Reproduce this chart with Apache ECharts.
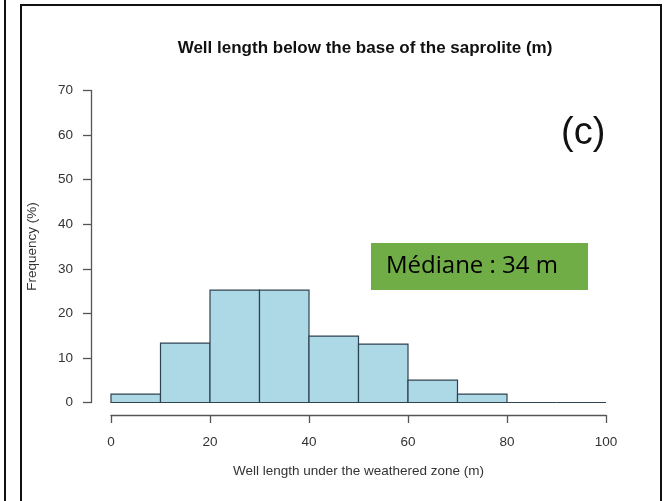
<!DOCTYPE html>
<html>
<head>
<meta charset="utf-8">
<script src="https://cdn.jsdelivr.net/npm/echarts@6/dist/echarts.min.js"></script>
<style>html,body{margin:0;padding:0;background:#fff;}#c{width:666px;height:501px;}</style>
</head>
<body>
<div id="c"></div>
<script>
var binStarts = [0, 10, 20, 30, 40, 50, 60, 70, 80, 90];
var binEnds   = [10, 20, 30, 40, 50, 60, 70, 80, 90, 100];
var frequencies = [1.9, 13.3, 25.2, 25.2, 14.9, 13.1, 5.0, 1.9, 0, 0];
var xTicks = [0, 20, 40, 60, 80, 100];
var yTicks = [0, 10, 20, 30, 40, 50, 60, 70];

var data = binStarts.map(function (s, i) { return [s, binEnds[i], frequencies[i]]; });

var chart = echarts.init(document.getElementById('c'), null, {renderer: 'canvas'});
var font = '"Liberation Sans", Arial, sans-serif';
var axisFont = {fontFamily: font, fontSize: 13.5, color: '#333'};
var xMin = xTicks[0], xMax = xTicks[xTicks.length - 1];
var yMin = yTicks[0], yMax = yTicks[yTicks.length - 1];
function hiddenAxis(type, gi, min, max) {
  return {type: 'value', gridIndex: gi, min: min, max: max, show: false,
          axisLine: {show: false}, axisTick: {show: false}, axisLabel: {show: false}, splitLine: {show: false}};
}
chart.setOption({
  animation: false,
  backgroundColor: '#fff',
  title: {
    text: 'Well length below the base of the saprolite (m)',
    left: 360, top: 35, textAlign: 'center',
    textStyle: {fontFamily: font, fontWeight: 'bold', fontSize: 17, color: '#111'}
  },
  grid: [
    {left: 111, right: 60, top: 90.5, bottom: 98.5},
    {left: 111, right: 60, top: 90.5, bottom: 86},
    {left: 91, right: 60, top: 90.5, bottom: 98.5}
  ],
  xAxis: [
    hiddenAxis('x', 0, xMin, xMax),
    {
      type: 'value', gridIndex: 1, min: xMin, max: xMax, interval: 20,
      name: 'Well length under the weathered zone (m)',
      nameLocation: 'middle', nameGap: 49,
      nameTextStyle: axisFont,
      axisLine: {lineStyle: {color: '#555', width: 1.3}},
      axisTick: {length: 8, lineStyle: {color: '#555', width: 1.3}},
      axisLabel: Object.assign({margin: 20}, axisFont),
      splitLine: {show: false}
    },
    hiddenAxis('x', 2, 0, 1)
  ],
  yAxis: [
    hiddenAxis('y', 0, yMin, yMax),
    hiddenAxis('y', 1, 0, 1),
    {
      type: 'value', gridIndex: 2, min: yMin, max: yMax, interval: 10,
      name: 'Frequency (%)',
      nameLocation: 'middle', nameGap: 52,
      nameTextStyle: axisFont,
      axisLine: {show: true, lineStyle: {color: '#555', width: 1.3}},
      axisTick: {show: true, length: 8, lineStyle: {color: '#555', width: 1.3}},
      axisLabel: Object.assign({margin: 18}, axisFont),
      splitLine: {show: false}
    }
  ],
  series: [{
    type: 'custom',
    xAxisIndex: 0, yAxisIndex: 0,
    data: data,
    encode: {x: [0, 1], y: 2},
    renderItem: function (params, api) {
      var p0 = api.coord([api.value(0), api.value(2)]);
      var p1 = api.coord([api.value(1), 0]);
      return {
        type: 'rect',
        shape: {x: p0[0], y: p0[1], width: p1[0] - p0[0], height: p1[1] - p0[1]},
        style: {fill: '#add8e6', stroke: '#2f4250', lineWidth: 1.2}
      };
    }
  }],
  graphic: [
    {type: 'rect', shape: {x: 21, y: 5, width: 640, height: 510}, style: {fill: 'none', stroke: '#111', lineWidth: 2}, silent: true, z: 100},
    {type: 'line', shape: {x1: 5, y1: 0, x2: 5, y2: 501}, style: {stroke: '#111', lineWidth: 2}, silent: true, z: 100},
    {type: 'text', x: 561, y: 134, style: {text: '(c)', font: '38px "Liberation Sans", Arial, sans-serif', fill: '#111', textVerticalAlign: 'middle'}, z: 100},
    {type: 'rect', shape: {x: 371, y: 243, width: 217, height: 47}, style: {fill: '#70ad47'}, z: 100},
    {type: 'text', x: 386, y: 266, style: {text: 'Médiane : 34 m', font: '24px "Open Sans", "Noto Sans", sans-serif', fill: '#000', textVerticalAlign: 'middle'}, z: 101}
  ]
});
</script>
</body>
</html>
